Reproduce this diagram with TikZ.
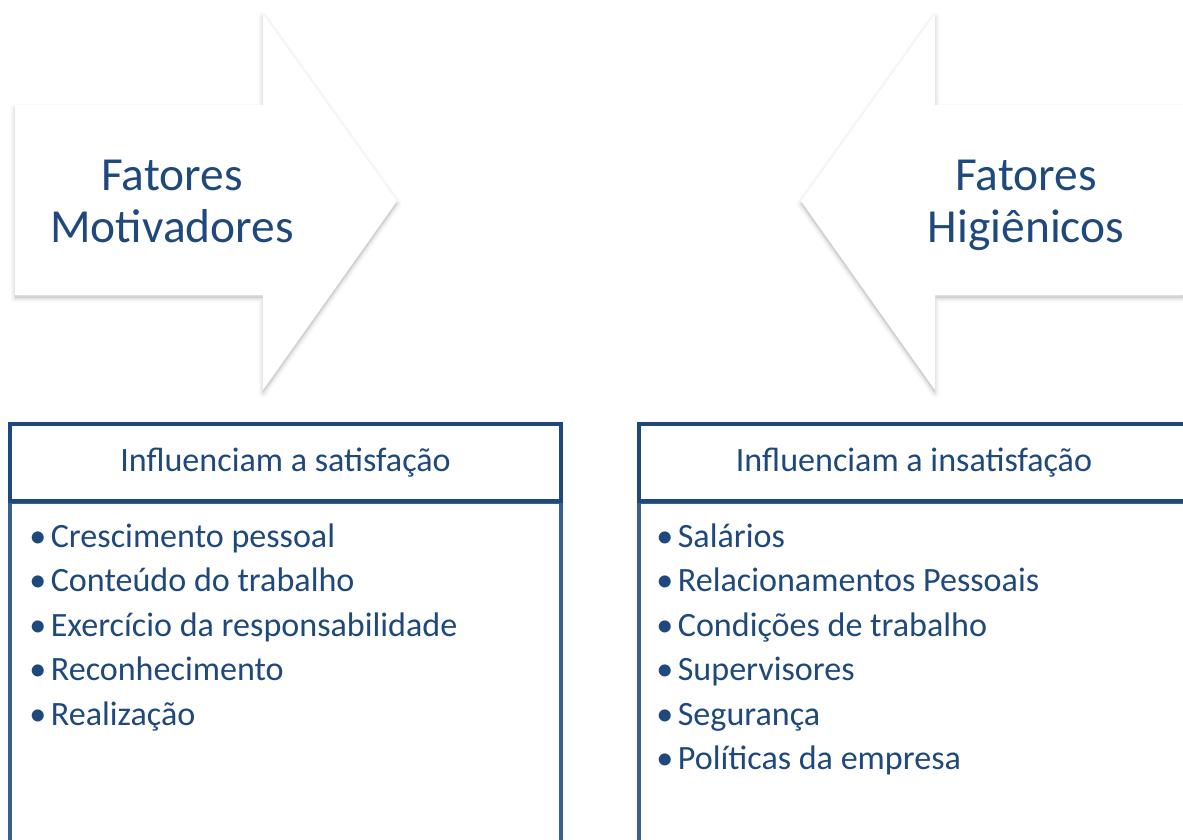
\documentclass[tikz,border=0pt]{standalone}
\usepackage{fontspec}
\setmainfont{Carlito}
\usetikzlibrary{positioning}
\definecolor{dkb}{RGB}{31,73,125}
\definecolor{mdb}{RGB}{58,95,142}

\def\motarr{(15,105) -- (263,105) -- (263,14) -- (397,201) -- (263,390) -- (263,295) -- (15,295) -- cycle}
\def\higarr{(1183,105) -- (935,105) -- (935,14) -- (801,201) -- (935,390) -- (935,295) -- (1183,295) -- cycle}

\begin{document}
\begin{tikzpicture}[x=0.02cm,y=-0.02cm,
  shd/.style={draw=black,fill=black,line join=round,opacity=#1},
  arr/.style={fill=white,draw=none},
  ttl/.style={text=dkb,align=center,anchor=base,font=\fontsize{27}{29.4}\selectfont},
  hd/.style={rectangle,draw=dkb,line width=2.3pt,fill=white,minimum width=11.02cm,minimum height=1.54cm,text=dkb,font=\fontsize{19.4}{22}\selectfont},
  bd/.style={rectangle,draw=mdb,line width=2.3pt,anchor=north,minimum width=11.02cm,minimum height=8cm},
  it/.style={anchor=base west,text=dkb,inner sep=0pt,font=\fontsize{19.4}{22}\selectfont}]
  \useasboundingbox (0,0) rectangle (1183,839);
  \clip (0,0) rectangle (1183,839);

  % arrows with soft shadow
  \foreach \w/\o in {9/0.02,6/0.03,3/0.05}{
    \draw[shd=\o,line width=\w*0.02cm,shift={(0,3)}] \motarr;
    \draw[shd=\o,line width=\w*0.02cm,shift={(0,3)}] \higarr;
  }
  \path[arr] \motarr;
  \path[arr] \higarr;
  \node[ttl] (mot) at (172,242) {Fatores\\Motivadores};
  \node[ttl] (hig) at (1026,242) {Fatores\\Higiênicos};

  % boxes
  \node[bd,outer sep=0pt] (bs) at (285.5,502) {};
  \node[bd,outer sep=0pt] (bi) at (914,502) {};
  \node[hd] (hs) at (285.5,462.5) {Influenciam a satisfação};
  \node[hd] (hi) at (914,462.5) {Influenciam a insatisfação};

  % lists
  \foreach \t [count=\i] in {Crescimento pessoal,Conteúdo do trabalho,Exercício da responsabilidade,Reconhecimento,Realização}
    \node[it] (m\i) at (29,{547+44.5*(\i-1)}) {\makebox[0.43cm][l]{•}\t};
  \foreach \t [count=\i] in {Salários,Relacionamentos Pessoais,Condições de trabalho,Supervisores,Segurança,Políticas da empresa}
    \node[it] (h\i) at (656,{547+44.5*(\i-1)}) {\makebox[0.43cm][l]{•}\t};
\end{tikzpicture}
\end{document}
